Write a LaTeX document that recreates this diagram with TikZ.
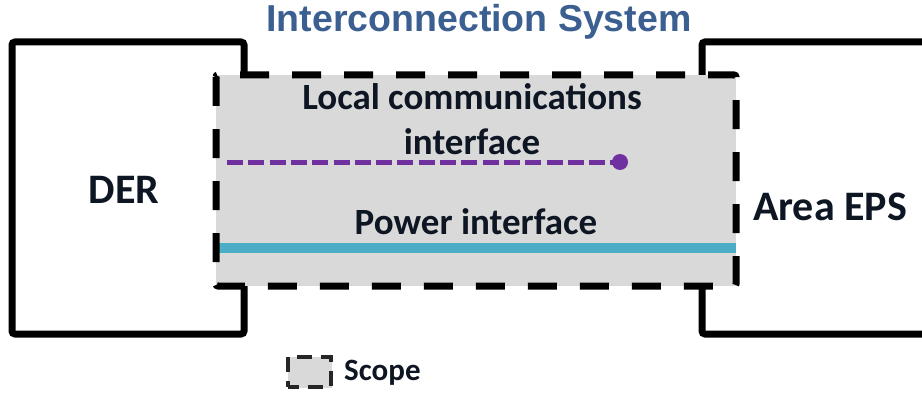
\documentclass[tikz,border=0pt]{standalone}
\usepackage{fontspec}
\setmainfont{Carlito}
\newfontfamily\titlefont{Liberation Sans}
\usetikzlibrary{shadows}
\definecolor{txt}{RGB}{13,22,34}
\definecolor{titleblue}{RGB}{59,95,145}
\definecolor{scopegray}{RGB}{217,217,217}
\definecolor{commpurple}{RGB}{112,48,160}
\definecolor{powerteal}{RGB}{75,172,198}
\tikzset{
  entitybox/.style={draw=black, line width=7pt, rounded corners=3pt},
  scopebox/.style={draw=black, line width=7pt, dash pattern=on 29pt off 23pt, rounded corners=2pt},
  lbl/.style={font=\bfseries\fontsize{37}{45}\selectfont, text=txt, inner sep=0pt},
  commline/.style={draw=commpurple, line width=5pt, dash pattern=on 16pt off 5.3pt},
  powerline/.style={draw=powerteal, line width=10pt},
}
\begin{document}
\begin{tikzpicture}[x=1pt,y=-1pt]
\useasboundingbox (0,0) rectangle (922,396);
% DER box
\draw[entitybox] (12,42) rectangle (244,334);
% Area EPS box
\draw[entitybox] (926,42) -- (702,42) -- (702,334) -- (926,334);
% scope area
\fill[scopegray] (216,75) rectangle (736,286);
\coordinate (pwA) at (216,247.5);
\coordinate (pwB) at (736,247.5);
\draw[powerline] (pwA) -- (pwB);
\draw[scopebox] (216,75) rectangle (736,286);
% comm line
\coordinate (cmA) at (227,162);
\node[circle, fill=commpurple, minimum size=16pt, inner sep=0pt] (dot) at (620,162) {};
\draw[commline] (cmA) -- (dot.center);
% texts
\node[font=\titlefont\bfseries\fontsize{37.5}{40}\selectfont, text=titleblue, inner sep=0pt] (title) at (479,22) {Interconnection System};
\node[lbl, align=center] (local) at (472,119) {Local communications\\interface};
\node[lbl] (power) at (476,222) {Power interface};
\node[lbl, font=\bfseries\fontsize{42}{44}\selectfont] (der) at (124,190) {DER};
\node[lbl, font=\bfseries\fontsize{42}{44}\selectfont] (eps) at (830,207) {Area EPS};
% legend
\node[draw=black!85, fill=scopegray, line width=4pt, dash pattern=on 15pt off 9pt, dash phase=4pt, minimum width=43pt, minimum height=30pt, inner sep=0pt, drop shadow={opacity=0.3, shadow xshift=1pt, shadow yshift=-1pt}] (legbox) at (309,372) {};
\node[lbl, font=\bfseries\fontsize{31}{33}\selectfont, anchor=west] (scope) at (344,373) {Scope};
\end{tikzpicture}
\end{document}
